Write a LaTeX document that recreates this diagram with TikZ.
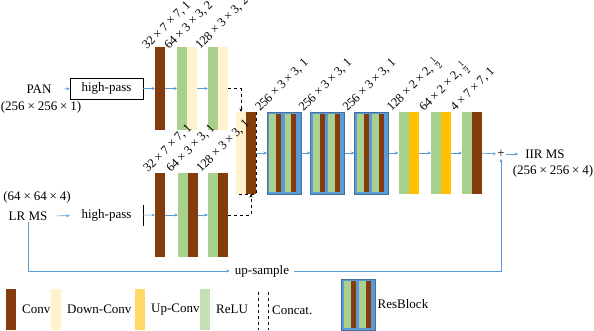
\documentclass[tikz,border=0pt]{standalone}
\usepackage{fontspec}
\setmainfont{Liberation Serif}
\usepackage{tikz}
\usetikzlibrary{arrows.meta,positioning}

\definecolor{convc}{HTML}{843C0C}
\definecolor{downc}{HTML}{FFF2CC}
\definecolor{upc}{HTML}{FFC000}
\definecolor{reluc}{HTML}{A9D18E}
\definecolor{upl}{HTML}{FFD966}
\definecolor{relul}{HTML}{C5E0B4}
\definecolor{resc}{HTML}{5B9BD5}
\definecolor{resedge}{HTML}{41719C}

\newcommand{\bx}{\hspace{.22em}×\hspace{.22em}}

\tikzset{
  txt/.style={inner sep=1pt,font=\fontsize{13}{15}\selectfont},
  bar/.style={inner sep=0pt,outer sep=0pt,minimum width=10pt},
  top/.style={bar,minimum height=83pt},
  bot/.style={bar,minimum height=84pt},
  mid/.style={bar,minimum height=82pt},
  key/.style={bar,minimum height=41pt},
  res/.style={inner sep=0pt,outer sep=0pt,fill=resc,draw=resedge,line width=0.8pt,minimum width=34pt},
  flow/.style={draw=resc,line width=0.6pt,-{Stealth[length=3.5pt,width=3pt]}},
  catline/.style={dashed,line width=0.6pt},
  lab/.style={rotate=45,anchor=base west,inner sep=0pt,font=\fontsize{12.5}{14}\selectfont}
}

\begin{document}
\begin{tikzpicture}[x=1pt,y=-1pt]
  \useasboundingbox (0,0) rectangle (594,330);

  % PAN branch
  \node[txt] (pan) at (39,89) {PAN};
  \node[txt] (pandim) at (41,107) {(256\bx256\bx1)};
  \node[txt,draw,line width=0.6pt,minimum width=73pt,minimum height=21pt] (hp1) at (106.5,88.5) {high-pass};
  \node[top,fill=convc] (c1) at (160,88.5) {};
  \node[top,fill=reluc] (d1) at (182,88.5) {};
  \node[top,fill=downc,right=0pt of d1] (d1b) {};
  \node[top,fill=reluc] (d2) at (213,88.5) {};
  \node[top,fill=downc,right=0pt of d2] (d2b) {};
  \draw[flow,shorten <=11pt] (pan) -- (hp1);
  \draw[flow] (hp1) -- (c1);
  \draw[flow] (c1) -- (d1);
  \draw[flow] (d1b) -- (d2);

  % LR MS branch
  \node[txt] (lrdim) at (37,197) {(64\bx64\bx4)};
  \node[txt] (lrms) at (28,216) {LR MS};
  \node[txt,minimum width=73pt,minimum height=21pt] (hp2) at (106.5,215.5) {high-pass};
  \draw[line width=0.6pt] (hp2.north east) -- (hp2.south east);
  \node[bot,fill=convc] (l1) at (160,215) {};
  \node[bot,fill=reluc] (l2) at (183,215) {};
  \node[bot,fill=convc,right=0pt of l2] (l2b) {};
  \node[bot,fill=reluc] (l3) at (213,215) {};
  \node[bot,fill=convc,right=0pt of l3] (l3b) {};
  \draw[flow,shorten <=8pt] (lrms) -- (hp2);
  \draw[flow] (hp2) -- (l1);
  \draw[flow] (l1) -- (l2);
  \draw[flow] (l2b) -- (l3);

  % concat and main row
  \node[mid,fill=downc] (cat1) at (241,153) {};
  \node[mid,fill=convc,right=0pt of cat1] (cat2) {};
  \draw[catline] (cat2.north east) -- (cat2.south east) -- (cat1.south west);
  \draw[catline,-{Stealth[length=3.5pt,width=3pt]}] (d2b.east) -| (cat1.north);
  \draw[catline,-{Stealth[length=3.5pt,width=3pt]}] (l3b.east) -| (cat2.south);

  \node[res,minimum height=82pt] (rb1) at (284,153) {};
  \node[res,minimum height=82pt] (rb2) at (327.5,153) {};
  \node[res,minimum height=82pt] (rb3) at (371.5,153) {};
  \node[mid,fill=reluc] (u1) at (403.5,153) {};
  \node[mid,fill=upc,right=0pt of u1] (u1b) {};
  \node[mid,fill=reluc] (u2) at (436,153) {};
  \node[mid,fill=upc,right=0pt of u2] (u2b) {};
  \node[mid,fill=reluc] (f1) at (467,153) {};
  \node[mid,fill=convc,right=0pt of f1] (f1b) {};
  \draw[flow] (cat2) -- (rb1);
  \draw[flow] (rb1) -- (rb2);
  \draw[flow] (rb2) -- (rb3);
  \draw[flow] (rb3) -- (u1);
  \draw[flow] (u1b) -- (u2);
  \draw[flow] (u2b) -- (f1);

  \node[txt] (plus) at (501,154) {+};
  \node[txt] (out) at (545,154) {IIR MS};
  \node[txt] (outdim) at (553,171) {(256\bx256\bx4)};
  \draw[flow] (f1b) -- (plus);
  \draw[flow,shorten >=6pt] (plus) -- (out);

  % skip path
  \node[txt,inner sep=5pt] (ups) at (262,271) {up-sample};
  \draw[flow] (lrms.south) |- (ups.west);
  \draw[flow] (ups.east) -| (plus.south);

  % legend
  \node[key,fill=convc] (k1) at (11,309.5) {};
  \node[txt,right=5pt of k1] (t1) {Conv};
  \node[key,fill=downc] (k2) at (56,309.5) {};
  \node[txt,right=5pt of k2] (t2) {Down-Conv};
  \node[key,fill=upl] (k3) at (140,309.5) {};
  \node[txt,right=5pt of k3] (t3) {Up-Conv};
  \node[key,fill=relul] (k4) at (205,309.5) {};
  \node[txt,right=5pt of k4] (t4) {ReLU};
  \draw[catline] (258,292) -- (258,330);
  \draw[catline] (268,292) -- (268,330);
  \node[txt,anchor=west] (t5) at (271,310) {Concat.};
  \node[res,minimum height=51pt] (rbk) at (358.5,304.5) {};
  \node[txt,right=1pt of rbk] (t6) {ResBlock};

  % stripes inside each ResBlock
  \foreach \n in {rb1,rb2,rb3,rbk}
    \foreach \a/\b/\c in {2.3/9/reluc,9/14/convc,17.7/24/reluc,24/29/convc}
      \fill[\c] ([xshift=\a pt,yshift=-2pt]\n.north west) rectangle ([xshift=\b pt,yshift=2pt]\n.south west);

  % kernel labels
  \foreach \n/\t in {c1/{32\bx7\bx7, 1},d1/{64\bx3\bx3, 2},d2/{128\bx3\bx3, 2}}
    \node[lab] (lab-\n) at ([xshift=-8pt,yshift=-3pt]\n.north west) {\t};
  \foreach \n/\t in {l1/{32\bx7\bx7, 1},l2/{64\bx3\bx3, 1},l3/{128\bx3\bx3, 1},
      rb1/{256\bx3\bx3, 1},rb2/{256\bx3\bx3, 1},rb3/{256\bx3\bx3, 1},
      u1/{128\bx2\bx2, $\frac{1}{2}$},u2/{64\bx2\bx2, $\frac{1}{2}$},f1/{4\bx7\bx7, 1}}
    \node[lab] (lab-\n) at ([xshift=-7pt]\n.north west) {\t};
\end{tikzpicture}
\end{document}
